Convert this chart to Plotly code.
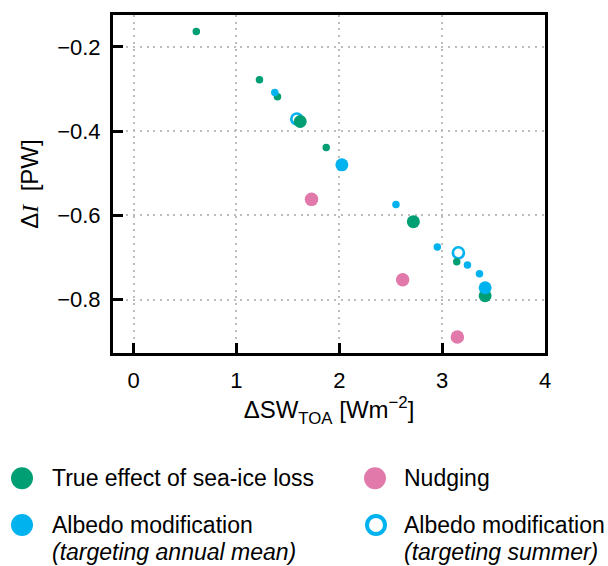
import plotly.graph_objects as go

# ---------------- data ----------------
true_small_x = [0.61, 1.224, 1.399, 1.873, 3.142]
true_small_y = [-0.163, -0.278, -0.318, -0.439, -0.710]
true_large_x = [1.62, 2.72, 3.418]
true_large_y = [-0.377, -0.615, -0.791]

albedo_small_x = [1.373, 2.551, 2.953, 3.246, 3.363]
albedo_small_y = [-0.308, -0.574, -0.675, -0.718, -0.739]
albedo_large_x = [2.025, 3.418]
albedo_large_y = [-0.480, -0.772]

summer_x = [1.587, 3.158]
summer_y = [-0.371, -0.689]

nudging_x = [1.730, 2.616, 3.148]
nudging_y = [-0.562, -0.753, -0.889]

x_ticks = [0, 1, 2, 3, 4]
x_ticktext = ["0", "1", "2", "3", "4"]
y_ticks = [-0.2, -0.4, -0.6, -0.8]
y_ticktext = ["\u22120.2", "\u22120.4", "\u22120.6", "\u22120.8"]

legend_labels = [
    ["True effect of sea-ice loss"],
    ["Nudging"],
    ["Albedo modification", "<i>(targeting annual mean)</i>"],
    ["Albedo modification", "<i>(targeting summer)</i>"],
]

# ---------------- style ----------------
GREEN = "#009E73"
BLUE = "#00B2EE"
PINK = "#E17AAB"
FONT = "Liberation Sans"

W, H = 608, 566
L, R, T, B = 113, 63, 13, 213
PW, PH = W - L - R, H - T - B

fig = go.Figure()

# draw order: open blue, green, filled blue, pink
fig.add_trace(go.Scatter(x=summer_x, y=summer_y, mode="markers",
                         marker=dict(symbol="circle-open", size=11, color=BLUE,
                                     line=dict(width=2.6, color=BLUE)),
                         showlegend=False))
fig.add_trace(go.Scatter(x=true_small_x, y=true_small_y, mode="markers",
                         marker=dict(size=7.5, color=GREEN, line=dict(width=0)),
                         showlegend=False))
fig.add_trace(go.Scatter(x=true_large_x, y=true_large_y, mode="markers",
                         marker=dict(size=13, color=GREEN, line=dict(width=0)),
                         showlegend=False))
fig.add_trace(go.Scatter(x=albedo_small_x, y=albedo_small_y, mode="markers",
                         marker=dict(size=7.5, color=BLUE, line=dict(width=0)),
                         showlegend=False))
fig.add_trace(go.Scatter(x=albedo_large_x, y=albedo_large_y, mode="markers",
                         marker=dict(size=13, color=BLUE, line=dict(width=0)),
                         showlegend=False))
fig.add_trace(go.Scatter(x=nudging_x, y=nudging_y, mode="markers",
                         marker=dict(size=13.5, color=PINK, line=dict(width=0)),
                         showlegend=False))

axis_common = dict(
    showline=True, linewidth=3, linecolor="black", mirror=True,
    ticks="inside", ticklen=10, tickwidth=2.5, tickcolor="black",
    showgrid=True, gridcolor="#bdbdbd", gridwidth=2, griddash="2px,4.7px",
    zeroline=False,
    tickfont=dict(family=FONT, size=22, color="black"),
)

fig.update_xaxes(range=[-0.2, 4.0], tickmode="array", tickvals=x_ticks,
                 ticktext=x_ticktext, ticklabelstandoff=6,
                 title=dict(text="\u0394SW<sub>TOA</sub> [Wm<sup>\u22122</sup>]",
                            font=dict(family=FONT, size=24, color="black"),
                            standoff=8),
                 **axis_common)
fig.update_yaxes(range=[-0.927, -0.124], tickmode="array", tickvals=y_ticks,
                 ticktext=y_ticktext, ticklabelstandoff=5,
                 title=dict(text="\u0394<span style=\"font-family:'Liberation Serif'\"><i>I</i></span>\u00a0 [PW]",
                            font=dict(family=FONT, size=24, color="black"),
                            standoff=12),
                 **axis_common)

# ---------------- manual legend ----------------
def px_to_paper(px, py):
    return (px - L) / PW, (H - B - py) / PH

legend_items = [
    (22, 479, 50, GREEN, False, legend_labels[0]),
    (375, 479, 402, PINK, False, legend_labels[1]),
    (22, 526, 50, BLUE, False, legend_labels[2]),
    (376, 526, 402, BLUE, True, legend_labels[3]),
]
shapes = []
annotations = []
for mx, my, tx, col, hollow, lines in legend_items:
    px, py = px_to_paper(mx, my)
    r = 9 if hollow else 11
    shapes.append(dict(
        type="circle", xref="paper", yref="paper",
        xsizemode="pixel", ysizemode="pixel", xanchor=px, yanchor=py,
        x0=-r, x1=r, y0=-r, y1=r,
        fillcolor="white" if hollow else col,
        line=dict(color=col, width=4 if hollow else 0),
    ))
    for i, line in enumerate(lines):
        ax, ay = px_to_paper(tx, my + 27 * i)
        annotations.append(dict(
            text=line, xref="paper", yref="paper", x=ax, y=ay,
            xanchor="left", yanchor="middle", showarrow=False,
            font=dict(family=FONT, size=23, color="black"),
        ))

fig.update_layout(
    width=W, height=H,
    margin=dict(l=L, r=R, t=T, b=B),
    plot_bgcolor="white", paper_bgcolor="white",
    font=dict(family=FONT, color="black"),
    shapes=shapes, annotations=annotations,
    showlegend=False,
)

fig.write_html("out.html")
